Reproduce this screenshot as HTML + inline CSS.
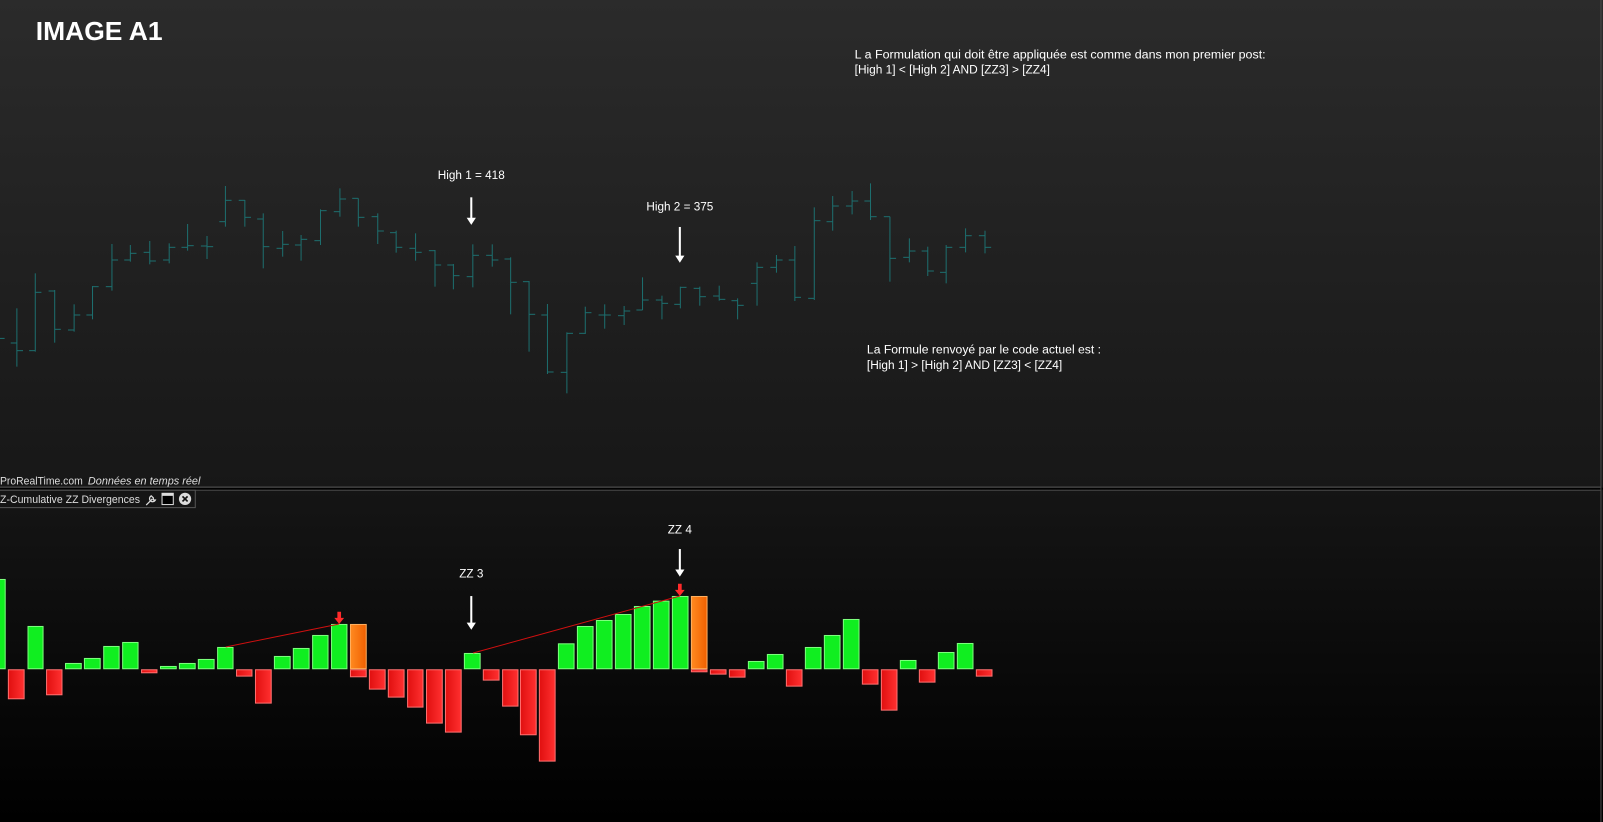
<!DOCTYPE html>
<html><head><meta charset="utf-8"><style>
html,body{margin:0;padding:0;background:#000;overflow:hidden}
svg{display:block}
text{font-family:"Liberation Sans",Arial,sans-serif}
</style></head><body>
<svg id="s" xmlns="http://www.w3.org/2000/svg" width="1603" height="822" viewBox="0 0 1568 804" preserveAspectRatio="none">
<defs>
<linearGradient id="up" x1="0" y1="0" x2="0" y2="1"><stop offset="0" stop-color="#2b2b2b"/><stop offset="1" stop-color="#171717"/></linearGradient>
<linearGradient id="lo" x1="0" y1="0" x2="0" y2="1"><stop offset="0" stop-color="#151515"/><stop offset="1" stop-color="#000"/></linearGradient>
<linearGradient id="rd" x1="0" y1="0" x2="1" y2="0"><stop offset="0" stop-color="#e01010"/><stop offset="1" stop-color="#ff3030"/></linearGradient>
<linearGradient id="or" x1="0" y1="0" x2="1" y2="0"><stop offset="0" stop-color="#ff8a20"/><stop offset="1" stop-color="#f06000"/></linearGradient>
</defs>
<rect x="0" y="0" width="1568" height="477" fill="url(#up)"/>
<rect x="0" y="479" width="1568" height="325" fill="url(#lo)"/>
<line x1="0" y1="476.5" x2="1566" y2="476.5" stroke="#5a5a5a"/>
<line x1="0" y1="479.5" x2="1566" y2="479.5" stroke="#4a4a4a"/>
<line x1="1566" y1="0" x2="1566" y2="804" stroke="#4a4a4a"/>
<g id="ohlc" stroke="#1d6e6e" stroke-width="1" fill="none"></g>
<g id="hist"></g>
<g id="ann"></g>
<text x="35" y="39" font-size="25" font-weight="bold" fill="#fff" textLength="124" lengthAdjust="spacingAndGlyphs">IMAGE A1</text>
<text x="836" y="57" font-size="11.5" fill="#fff" textLength="402" lengthAdjust="spacingAndGlyphs">L a Formulation qui doit être appliquée est comme dans mon premier post:</text>
<text x="836" y="72" font-size="11.5" fill="#fff" textLength="191" lengthAdjust="spacingAndGlyphs">[High 1] &lt; [High 2] AND [ZZ3] &gt; [ZZ4]</text>
<text x="848" y="346" font-size="11.5" fill="#fff" textLength="229" lengthAdjust="spacingAndGlyphs">La Formule renvoyé par le code actuel est :</text>
<text x="848" y="361" font-size="11.5" fill="#fff" textLength="191" lengthAdjust="spacingAndGlyphs">[High 1] &gt; [High 2] AND [ZZ3] &lt; [ZZ4]</text>
<text x="461" y="175" font-size="11.5" fill="#fff" text-anchor="middle">High 1 = 418</text>
<text x="665" y="206" font-size="11.5" fill="#fff" text-anchor="middle">High 2 = 375</text>
<text x="461" y="565" font-size="11.5" fill="#fff" text-anchor="middle">ZZ 3</text>
<text x="665" y="522" font-size="11.5" fill="#fff" text-anchor="middle">ZZ 4</text>
<text x="0" y="474" font-size="10.5" fill="#ddd" textLength="81" lengthAdjust="spacingAndGlyphs">ProRealTime.com</text>
<text x="86" y="474" font-size="10.5" font-style="italic" fill="#ddd" textLength="110" lengthAdjust="spacingAndGlyphs">Données en temps réel</text>
<rect x="-1" y="479.5" width="192" height="17" fill="#151515" stroke="#555"/>
<text x="0" y="492" font-size="11" fill="#ddd" textLength="137" lengthAdjust="spacingAndGlyphs">Z-Cumulative ZZ Divergences</text>
<path d="M143 494 L149 488 M148 485 a3 3 0 1 0 4 4 l-2 0 l0 -2 z" stroke="#ddd" stroke-width="1.2" fill="none"/>
<rect x="158.5" y="482.5" width="11" height="11" fill="#000" stroke="#ddd"/>
<rect x="158.5" y="482.5" width="11" height="2.5" fill="#ddd"/>
<circle cx="181" cy="488" r="6" fill="#ddd"/>
<path d="M178.5 485.5 l5 5 M183.5 485.5 l-5 5" stroke="#111" stroke-width="1.6"/>
</svg>
<script>
var NS="http://www.w3.org/2000/svg";
function el(p,t,a){var e=document.createElementNS(NS,t);for(var k in a)e.setAttribute(k,a[k]);p.appendChild(e);return e;}
var g=document.getElementById('ohlc');
var A=[[46,445,620,549,572],[98,340,575,572,397],[152,390,548,393,508],[205,433,515,510,465],[259,378,478,465,380],[312,252,392,380,300],[365,255,305,300,280],[418,243,313,277,303],[471,250,310,300,262],[524,192,272,262,257],[578,228,297,258,260],[631,78,200,185,121],[684,120,200,121,172],[737,160,325,177,260],[790,213,290,265,253],[843,225,302,255,238],[897,148,255,242,152],[950,85,170,155,117],[1003,115,200,115,172],[1056,160,252,170,213],[1109,212,278,218,262],[1163,220,302,265,277],[1216,270,380,272,315],[1269,312,388,315,347],[1323,253,382,350,286],[1376,253,320,286,300],[1429,292,463,297,367],[1480,363,575,365,463],[1533,432,642,465,636]];
function ob(x,t,b,o,c){x=Math.round(x)+0.5;el(g,'line',{x1:x,y1:t,x2:x,y2:b});el(g,'line',{x1:x-6,y1:o,x2:x,y2:o});el(g,'line',{x1:x,y1:c,x2:x+6,y2:c});}
ob(-2,300,340,320,331);
A.forEach(function(r){var f=function(v){return 156.5+v*0.326};ob(r[0]*0.3493,f(r[1]),f(r[2]),f(r[3]),f(r[4]));});
var B=[[79,487,670,607,490],[136,410,492,490,428],[193,403,476,435,435],[250,408,465,437,423],[307,322,420,420,390],[364,377,448,390,400],[421,350,415,403,352],[478,350,407,355,380],[535,347,392,378,388],[592,385,448,392,406],[650,277,407,340,292],[707,255,308,292,270],[764,228,393,270,382],[821,112,390,385,152],[878,78,182,155,108],[935,63,133,108,93],[992,40,150,93,140],[1048,140,335,140,265],[1106,205,277,262,243],[1162,230,318,243,303],[1219,225,340,307,232],[1276,175,247,232,197],[1334,182,250,197,232]];
B.forEach(function(r){var f=function(v){return 166.3+v*0.326};ob(528.1+r[0]*0.326,f(r[1]),f(r[2]),f(r[3]),f(r[4]));});
var h=document.getElementById('hist');var Z=654.6;
function bar(x1,x2,v,type){var y1=Math.min(v,Z),y2=Math.max(v,Z);
 var fill=type=='g'?'#10ee20':type=='o'?'url(#or)':'url(#rd)';
 var st=type=='g'?'#7dff7d':type=='o'?'#ffb060':'#ff7070';
 el(h,'rect',{x:x1+0.5,y:y1+0.5,width:Math.max(x2-x1-1,1),height:Math.max(y2-y1-1,1),fill:fill,stroke:st,'stroke-width':1});}
var L=[[-5,16,357,'g'],[22,69,718,'r'],[77,122,498,'g'],[129,175,706,'r'],[182,229,609,'g'],[235,282,594,'g'],[289,335,558,'g'],[342,388,546,'g'],[395,441,640,'r'],[448,495,618,'g'],[501,548,609,'g'],[554,601,597,'g'],[608,654,561,'g'],[661,707,650,'r'],[714,761,731,'r'],[767,814,588,'g'],[820,867,564,'g'],[874,920,525,'g'],[927,973,492,'g'],[980,1027,652,'r'],[980,1027,492,'o'],[1033,1080,689,'r'],[1086,1133,713,'r'],[1140,1186,743,'r'],[1193,1240,791,'r'],[1246,1293,818,'r'],[1299,1346,579,'g'],[1352,1399,662,'r'],[1406,1452,740,'r'],[1456,1503,826,'r'],[1509,1556,905,'r']];
L.forEach(function(r){var fx=function(v){return v*0.3493},fy=function(v){return 449.9+v*0.326};bar(fx(r[0]),fx(r[1]),fy(r[2]),r[3]);});
var R=[[24,74,370,'g'],[81,131,318,'g'],[138,188,300,'g'],[195,245,282,'g'],[252,302,258,'g'],[309,359,242,'g'],[366,416,228,'g'],[423,473,457,'r'],[423,473,228,'o'],[480,530,464,'r'],[537,587,473,'r'],[594,644,423,'g'],[651,701,402,'g'],[708,758,500,'r'],[765,815,381,'g'],[822,872,345,'g'],[879,929,297,'g'],[936,986,494,'r'],[993,1043,572,'r'],[1050,1100,420,'g'],[1107,1157,488,'r'],[1164,1214,396,'g'],[1221,1271,369,'g'],[1278,1328,470,'r']];
R.forEach(function(r){var fx=function(v){return 537.9+v*0.326},fy=function(v){return 508.6+v*0.326};bar(fx(r[0]),fx(r[1]),fy(r[2]),r[3]);});
var a=document.getElementById('ann');
el(a,'line',{x1:220.8,y1:632.8,x2:331.8,y2:610.3,stroke:'#d01010','stroke-width':1});
el(a,'line',{x1:462.8,y1:638.7,x2:665,y2:583,stroke:'#d01010','stroke-width':1});
function redArrow(x,y){el(a,'path',{d:'M'+(x-1.8)+' '+(y-12)+' h3.6 v6 h3 l-4.8 6 l-4.8 -6 h3 z',fill:'#ff2a2a'});}
redArrow(331.8,610.3);redArrow(665,583);
function wArrow(x,y1,y2){el(a,'line',{x1:x,y1:y1,x2:x,y2:y2-6,stroke:'#fff','stroke-width':2});el(a,'path',{d:'M'+(x-4.5)+' '+(y2-7)+' L'+(x+4.5)+' '+(y2-7)+' L'+x+' '+y2+' z',fill:'#fff'});}
wArrow(461,193,220);wArrow(665,222,257);wArrow(461,583,616);wArrow(665,537,564);
</script>
</body></html>
